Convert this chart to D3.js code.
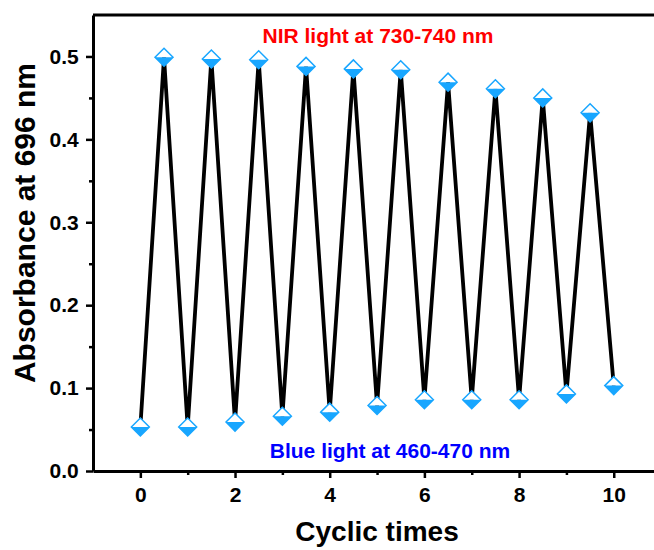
<!DOCTYPE html>
<html>
<head>
<meta charset="utf-8">
<script src="https://cdn.jsdelivr.net/npm/d3@7/dist/d3.min.js"></script>
<style>
  html, body { margin: 0; padding: 0; background: #fff; }
  svg { display: block; }
  text { font-family: "Liberation Sans", Arial, sans-serif; font-weight: bold; }
</style>
</head>
<body>
<svg id="chart" width="654" height="550"></svg>
<script>
// Switching cycles: blue light (whole cycles) and NIR light (half cycles)
const cycleTimes = [0, 0.5, 1, 1.5, 2, 2.5, 3, 3.5, 4, 4.5, 5, 5.5, 6, 6.5, 7, 7.5, 8, 8.5, 9, 9.5, 10];
const absorbance = [0.053, 0.499, 0.053, 0.497, 0.059, 0.496, 0.066, 0.488, 0.071, 0.485,
                    0.079, 0.484, 0.086, 0.469, 0.086, 0.461, 0.086, 0.450, 0.093, 0.432, 0.103];

const xMajorTicks = [0, 2, 4, 6, 8, 10];
const xMinorTicks = [1, 3, 5, 7, 9];
const yMajorTicks = [0.0, 0.1, 0.2, 0.3, 0.4, 0.5];
const yMinorTicks = [0.05, 0.15, 0.25, 0.35, 0.45];

const labels = {
  x: "Cyclic times",
  y: "Absorbance at 696 nm",
  nir: "NIR light at 730-740 nm",
  blue: "Blue light at 460-470 nm"
};

const markerColor = "#18a6ff";

const svg = d3.select("#chart");
const plotLeft = 93, plotRight = 654, plotTop = 15, plotBottom = 471;

const x = d3.scaleLinear().domain([-1, 10.85]).range([plotLeft, plotRight]);
const y = d3.scaleLinear().domain([0, 0.55]).range([plotBottom, plotTop]);

const points = cycleTimes.map((t, i) => ({ t, a: absorbance[i] }));

// top frame line
svg.append("line")
  .attr("x1", plotLeft).attr("x2", plotRight)
  .attr("y1", plotTop).attr("y2", plotTop)
  .attr("stroke", "#000").attr("stroke-width", 3);

// x axis (major + minor)
const xAxis = svg.append("g").attr("transform", `translate(0,${plotBottom})`);
xAxis.call(d3.axisBottom(x).tickValues(xMajorTicks).tickFormat(d3.format("d")).tickSize(7).tickSizeOuter(0));
xAxis.append("g").call(d3.axisBottom(x).tickValues(xMinorTicks).tickFormat("").tickSize(4).tickSizeOuter(0))
  .select(".domain").remove();

// y axis (major + minor)
const yAxis = svg.append("g").attr("transform", `translate(${plotLeft},0)`);
yAxis.call(d3.axisLeft(y).tickValues(yMajorTicks).tickFormat(d3.format(".1f")).tickSize(7).tickSizeOuter(0));
yAxis.append("g").call(d3.axisLeft(y).tickValues(yMinorTicks).tickFormat("").tickSize(4).tickSizeOuter(0))
  .select(".domain").remove();

svg.selectAll(".domain").attr("stroke", "#000").attr("stroke-width", 3);
svg.selectAll(".tick line").attr("stroke", "#000").attr("stroke-width", 2.5);
svg.selectAll(".tick text").attr("fill", "#000").style("font-size", "21px")
  .style("font-family", "'Liberation Sans', Arial, sans-serif").style("font-weight", "bold");
xAxis.selectAll(".tick text").attr("dy", "1.0em");
yAxis.selectAll(".tick text").attr("dx", "-0.2em");

// axis titles
svg.append("text")
  .attr("x", 377).attr("y", 541)
  .attr("text-anchor", "middle")
  .style("font-size", "28px")
  .text(labels.x);

svg.append("text")
  .attr("transform", `translate(35,223) rotate(-90)`)
  .attr("text-anchor", "middle")
  .style("font-size", "30px")
  .text(labels.y);

// annotations
svg.append("text")
  .attr("x", 378).attr("y", 43)
  .attr("text-anchor", "middle")
  .attr("fill", "#ff0000")
  .style("font-size", "21px")
  .text(labels.nir);

svg.append("text")
  .attr("x", 390).attr("y", 458)
  .attr("text-anchor", "middle")
  .attr("fill", "#0000ff")
  .style("font-size", "21px")
  .text(labels.blue);

// zig-zag line
const line = d3.line().x(d => x(d.t)).y(d => y(d.a));
svg.append("path")
  .datum(points)
  .attr("d", line)
  .attr("fill", "none")
  .attr("stroke", "#000")
  .attr("stroke-width", 3.8)
  .attr("stroke-linejoin", "miter");

// half-filled diamond markers
const r = 9;
const mk = svg.append("g").selectAll("g").data(points).join("g")
  .attr("transform", d => `translate(${x(d.t)},${y(d.a)})`);
mk.append("path")
  .attr("d", `M${-r},0L0,${-r}L${r},0Z`)
  .attr("fill", "#fff");
mk.append("path")
  .attr("d", `M${-r},0L0,${r}L${r},0Z`)
  .attr("fill", markerColor);
mk.append("path")
  .attr("d", `M${-r},0L0,${-r}L${r},0L0,${r}Z`)
  .attr("fill", "none")
  .attr("stroke", markerColor)
  .attr("stroke-width", 1.5);
</script>
</body>
</html>
